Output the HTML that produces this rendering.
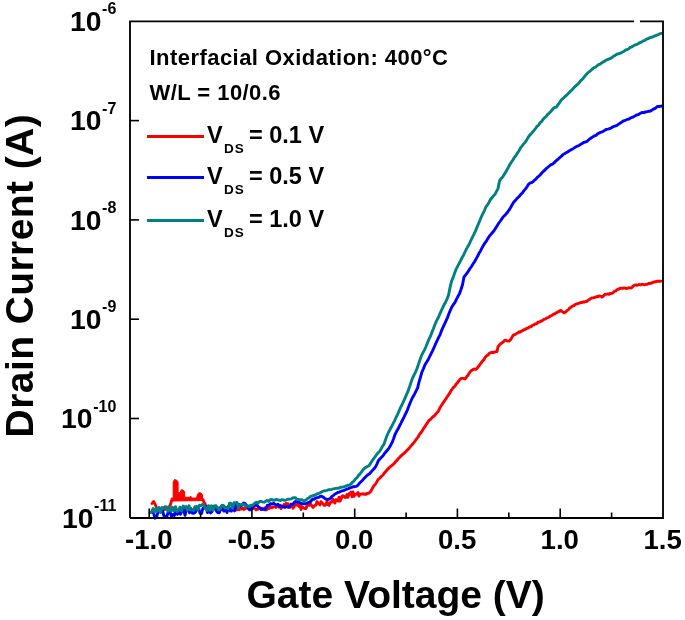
<!DOCTYPE html>
<html><head><meta charset="utf-8"><style>
html,body{margin:0;padding:0;background:#fff;}
svg{display:block;filter:blur(0.3px);}
text{font-family:"Liberation Sans",sans-serif;font-weight:bold;fill:#000;}
</style></head><body>
<svg width="685" height="620" viewBox="0 0 685 620">
<rect width="685" height="620" fill="#fff"/>
<g fill="none" stroke-linejoin="round" stroke-linecap="round" stroke-width="2.9">
<path d="M171.5,498.0 L173.2,498.0 L173.2,482.0 L174.5,479.6 L176.5,480.0 L178.1,482.0 L178.1,492.7 L180.1,492.7 L180.8,490.5 L182.1,489.5 L183.5,490.5 L184.7,492.0 L184.7,497.3 L190.0,497.3 L190.5,496.0 L191.3,497.0 L191.3,498.0 L196.5,498.0 L197.5,494.0 L199.0,492.7 L201.0,493.0 L202.5,495.0 L202.5,500.6 L171.5,501.0Z" stroke="#fa0000" fill="#fa0000" stroke-width="1"/>
<path d="M152.0,503.5 L153.5,501.5 L155.0,504.0 L157.0,509.0 L162.0,510.0 L166.0,509.0 L170.0,506.0 L171.5,501.0 M203.0,499.8 L204.0,502.4 L205.0,503.7 L206.0,506.2 L207.0,507.5 L208.0,507.4 L209.0,506.5 L210.0,506.6 L211.0,507.2 L212.0,507.2 L213.0,508.8 L214.0,508.1 L215.0,508.6 L216.0,509.6 L217.0,508.0 L218.0,508.8 L219.0,508.0 L220.0,509.6 L221.0,507.8 L222.0,509.7 L223.0,509.7 L224.0,509.6 L225.0,507.7 L226.0,508.1 L227.0,509.2 L228.0,507.6 L229.0,508.5 L230.0,508.4 L231.0,509.6 L232.0,508.8 L233.0,509.5 L234.0,508.2 L235.0,509.4 L236.0,508.6 L237.0,509.9 L238.0,507.9 L239.0,509.7 L240.0,508.3 L241.0,509.1 L242.0,509.0 L243.0,508.0 L244.0,509.6 L245.0,508.3 L246.0,508.2 L247.0,507.6 L248.0,508.1 L249.0,508.5 L250.0,509.0 L251.0,508.2 L252.0,509.0 L253.0,507.7 L254.0,508.4 L255.0,508.6 L256.0,509.8 L257.0,509.5 L258.0,509.1 L259.0,507.6 L260.0,508.5 L261.0,509.4 L262.0,508.3 L263.0,509.1 L264.0,508.9 L265.0,507.7 L266.0,509.9 L267.0,509.3 L268.0,507.7 L269.0,508.5 L270.0,507.5 L271.0,507.5 L272.0,507.8 L273.0,507.0 L274.0,506.9 L275.0,506.9 L276.0,507.4 L277.0,506.2 L278.0,505.9 L279.0,507.0 L280.0,505.3 L281.0,508.6 L282.0,506.3 L283.0,507.0 L284.0,504.6 L285.0,507.4 L286.0,503.4 L287.0,503.7 L288.0,503.6 L289.0,506.9 L290.0,507.2 L291.0,504.3 L292.0,505.7 L293.0,508.2 L294.0,506.9 L295.0,504.2 L296.0,505.1 L297.0,504.8 L298.0,504.7 L299.0,506.4 L300.0,504.6 L301.0,509.5 L302.0,506.8 L303.0,507.4 L304.0,508.2 L305.0,508.5 L306.0,508.5 L307.0,505.8 L308.0,505.2 L309.0,505.4 L310.0,502.8 L311.0,504.7 L312.0,506.1 L313.0,507.4 L314.0,506.3 L315.0,505.4 L316.0,505.1 L317.0,501.6 L318.0,503.3 L319.0,503.3 L320.0,504.9 L321.0,501.7 L322.0,503.1 L323.0,503.8 L324.0,505.2 L325.0,505.3 L326.0,504.0 L327.0,501.4 L328.0,504.7 L329.0,505.4 L330.0,503.3 L331.0,501.6 L332.0,501.9 L333.0,499.3 L334.0,501.9 L335.0,502.9 L336.0,499.7 L337.0,500.5 L338.0,501.0 L339.0,497.2 L340.0,501.2 L341.0,499.2 L342.0,496.5 L343.0,495.7 L344.0,496.4 L345.0,497.5 L346.0,497.4 L347.0,494.5 L348.0,497.3 L349.0,493.8 L350.0,494.0 L351.0,492.0 L352.0,496.7 L353.0,492.0 L354.0,496.3 L355.0,494.2 L356.0,494.2 L357.0,494.2 L358.0,492.5 L359.0,496.0 L360.0,494.1 L361.0,494.1 L362.0,494.0 L363.0,493.7 L364.0,494.3 L365.0,494.0 L366.0,494.3 L367.0,493.4 L368.0,493.3 L369.0,493.1 L370.0,492.2 L371.0,491.1 L372.0,489.0 L373.0,487.2 L374.0,485.6 L375.0,484.7 L376.0,483.2 L377.0,481.5 L378.0,479.7 L379.0,478.9 L380.0,478.0 L381.0,476.7 L382.0,475.9 L383.0,475.0 L384.0,473.4 L385.0,472.3 L386.0,471.3 L387.0,469.9 L388.0,468.9 L389.0,467.9 L390.0,466.8 L391.0,466.3 L392.0,465.3 L393.0,464.7 L394.0,463.6 L395.0,462.7 L396.0,461.0 L397.0,460.4 L398.0,458.8 L399.0,458.2 L400.0,456.9 L401.0,455.9 L402.0,454.9 L403.0,454.2 L404.0,453.3 L405.0,452.4 L406.0,451.5 L407.0,450.2 L408.0,449.5 L409.0,448.3 L410.0,447.2 L411.0,445.8 L412.0,444.7 L413.0,443.5 L414.0,442.5 L415.0,440.9 L416.0,439.7 L417.0,438.2 L418.0,437.2 L419.0,435.3 L420.0,433.6 L421.0,432.6 L422.0,431.2 L423.0,429.5 L424.0,427.8 L425.0,426.5 L426.0,424.7 L427.0,423.6 L428.0,421.8 L429.0,420.4 L430.0,419.7 L431.0,418.8 L432.0,417.8 L433.0,416.6 L434.0,416.2 L435.0,415.0 L436.0,413.7 L437.0,412.7 L438.0,411.7 L439.0,410.1 L440.0,407.5 L441.0,406.0 L442.0,404.6 L443.0,402.9 L444.0,401.7 L445.0,399.9 L446.0,398.8 L447.0,396.9 L448.0,395.8 L449.0,394.0 L450.0,392.8 L451.0,390.5 L452.0,389.5 L453.0,387.8 L454.0,387.0 L455.0,386.1 L456.0,384.2 L457.0,383.2 L458.0,382.0 L459.0,380.7 L460.0,379.2 L461.0,378.6 L462.0,378.4 L463.0,378.4 L464.0,378.6 L465.0,379.0 L466.0,377.6 L467.0,376.1 L468.0,375.4 L469.0,373.4 L470.0,372.1 L471.0,371.0 L472.0,370.2 L473.0,369.6 L474.0,369.1 L475.0,369.0 L476.0,369.3 L477.0,368.6 L478.0,366.8 L479.0,366.0 L480.0,364.3 L481.0,363.1 L482.0,361.6 L483.0,360.7 L484.0,359.5 L485.0,357.5 L486.0,356.5 L487.0,355.4 L488.0,355.1 L489.0,353.7 L490.0,352.9 L491.0,352.7 L492.0,352.2 L493.0,352.5 L494.0,352.3 L495.0,352.0 L496.0,351.4 L497.0,351.7 L498.0,346.7 L499.0,345.4 L500.0,344.3 L501.0,343.5 L502.0,342.8 L503.0,342.2 L504.0,341.0 L505.0,340.1 L506.0,340.2 L507.0,340.8 L508.0,341.1 L509.0,341.0 L510.0,340.3 L511.0,339.0 L512.0,337.3 L513.0,335.5 L514.0,334.6 L515.0,334.6 L516.0,333.9 L517.0,333.1 L518.0,332.9 L519.0,331.9 L520.0,332.2 L521.0,331.3 L522.0,330.9 L523.0,330.4 L524.0,329.6 L525.0,329.5 L526.0,328.8 L527.0,328.3 L528.0,328.3 L529.0,327.2 L530.0,326.8 L531.0,326.7 L532.0,325.7 L533.0,325.1 L534.0,324.8 L535.0,323.9 L536.0,323.9 L537.0,323.5 L538.0,322.2 L539.0,322.0 L540.0,321.8 L541.0,321.0 L542.0,320.9 L543.0,320.0 L544.0,319.3 L545.0,319.1 L546.0,318.7 L547.0,317.9 L548.0,317.6 L549.0,317.1 L550.0,316.3 L551.0,315.7 L552.0,315.4 L553.0,314.6 L554.0,314.0 L555.0,313.8 L556.0,312.7 L557.0,312.7 L558.0,311.7 L559.0,311.5 L560.0,310.7 L561.0,310.5 L562.0,311.5 L563.0,312.1 L564.0,312.8 L565.0,312.4 L566.0,311.7 L567.0,310.6 L568.0,309.9 L569.0,309.0 L570.0,307.7 L571.0,307.2 L572.0,306.4 L573.0,305.8 L574.0,305.6 L575.0,304.6 L576.0,304.2 L577.0,303.7 L578.0,303.6 L579.0,303.2 L580.0,302.8 L581.0,302.5 L582.0,302.6 L583.0,301.8 L584.0,302.2 L585.0,301.7 L586.0,301.5 L587.0,301.4 L588.0,300.4 L589.0,299.7 L590.0,299.2 L591.0,298.3 L592.0,297.9 L593.0,297.9 L594.0,297.6 L595.0,297.1 L596.0,297.1 L597.0,296.5 L598.0,296.8 L599.0,296.0 L600.0,296.2 L601.0,296.4 L602.0,297.2 L603.0,296.4 L604.0,295.3 L605.0,294.3 L606.0,294.4 L607.0,294.2 L608.0,293.9 L609.0,294.3 L610.0,293.4 L611.0,293.5 L612.0,293.3 L613.0,292.9 L614.0,291.6 L615.0,291.2 L616.0,290.8 L617.0,289.7 L618.0,289.2 L619.0,289.1 L620.0,288.2 L621.0,288.3 L622.0,288.2 L623.0,288.3 L624.0,287.9 L625.0,287.9 L626.0,288.6 L627.0,288.3 L628.0,288.3 L629.0,287.8 L630.0,287.8 L631.0,288.0 L632.0,287.4 L633.0,286.2 L634.0,285.5 L635.0,285.0 L636.0,284.9 L637.0,285.4 L638.0,285.0 L639.0,284.5 L640.0,284.7 L641.0,284.8 L642.0,284.2 L643.0,284.4 L644.0,284.6 L645.0,284.7 L646.0,284.4 L647.0,284.4 L648.0,283.8 L649.0,283.4 L650.0,283.5 L651.0,282.9 L652.0,283.0 L653.0,282.2 L654.0,282.1 L655.0,281.7 L656.0,281.7 L657.0,281.3 L658.0,281.2 L659.0,281.2 L660.0,281.3 L661.0,281.1" stroke="#fa0000"/>
<path d="M152.0,512.3 L153.5,512.8 L155.0,518.2 L156.5,517.3 L158.0,512.2 L159.5,510.5 L161.0,510.4 L162.5,510.6 L164.0,516.0 L165.5,516.9 L167.0,516.0 L168.5,511.2 L170.0,511.3 L171.5,516.5 L173.0,514.6 L174.5,515.4 L176.0,509.4 L177.5,514.4 L179.0,509.3 L180.5,514.3 L182.0,510.4 L183.5,508.5 L185.0,515.4 L186.5,508.7 L188.0,507.6 L189.5,512.8 L191.0,508.6 L192.5,513.2 L194.0,513.1 L195.5,512.0 L197.0,506.9 L198.5,507.7 L200.0,513.2 L201.5,513.6 L203.0,508.2 L204.5,507.6 L206.0,506.5 L207.5,512.6 L209.0,507.0 L210.5,513.0 L212.0,511.7 L213.5,506.3 L215.0,506.1 L216.5,511.2 L218.0,512.8 L219.5,512.5 L221.0,506.7 L222.5,507.3 L224.0,511.1 L225.5,507.3 L227.0,512.5 L228.5,506.6 L230.0,510.8 L231.5,511.1 L233.0,505.7 L234.5,510.9 L236.0,504.5 L237.5,505.8 L239.0,504.2 L240.5,506.3 L242.0,505.1 L243.5,503.0 L245.0,503.3 L246.5,505.8 L248.0,507.4 L249.5,509.9 L251.0,509.8 L252.5,507.6 L254.0,505.9 L255.5,505.2 L257.0,505.1 L258.5,507.2 L260.0,507.8 L261.5,509.4 L263.0,509.2 L264.5,509.7 L266.0,508.3 L267.5,505.2 L269.0,505.4 L270.5,503.6 L272.0,504.0 L273.5,503.2 L275.0,504.3 L276.5,505.0 L278.0,504.3 L279.5,506.5 L281.0,505.9 L282.5,506.5 L284.0,506.9 L285.5,506.6 L287.0,506.7 L288.5,507.4 L290.0,506.0 L291.5,504.3 L293.0,504.1 L294.5,502.1 L296.0,501.4 L297.5,502.2 L299.0,502.1 L300.5,503.1 L302.0,503.9 L303.5,503.7 L305.0,503.8 L306.5,503.5 L308.0,502.7 L309.5,502.2 L311.0,501.0 L312.5,499.2 L314.0,499.2 L315.5,498.2 L317.0,497.6 L318.5,497.4 L320.0,496.5 L321.5,496.2 L323.0,497.0 L324.5,498.1 L326.0,499.1 L327.5,499.6 L329.0,499.1 L330.5,498.2 L332.0,496.4 L333.5,495.3 L335.0,494.0 L336.5,493.2 L338.0,492.4 L339.5,492.1 L341.0,491.2 L342.5,490.8 L344.0,490.4 L345.5,489.7 L347.0,489.0 L348.5,488.6 L350.0,487.8 L351.5,487.4 L353.0,486.8 L354.5,486.7 L356.0,486.3 L357.5,485.7 L359.0,483.8 L360.5,482.1 L362.0,480.9 L363.5,479.1 L365.0,477.5 L366.5,476.0 L368.0,474.7 L369.5,473.7 L371.0,472.1 L372.5,470.4 L374.0,468.7 L375.5,467.0 L377.0,463.8 L378.5,460.4 L380.0,458.7 L381.5,457.2 L383.0,455.7 L384.5,453.5 L386.0,451.7 L387.5,450.0 L389.0,448.1 L390.5,445.6 L392.0,442.7 L393.5,439.0 L395.0,434.5 L396.5,431.6 L398.0,429.1 L399.5,426.0 L401.0,423.1 L402.5,420.0 L404.0,417.1 L405.5,413.9 L407.0,411.0 L408.5,407.1 L410.0,403.2 L411.5,399.7 L413.0,396.7 L414.5,394.2 L416.0,391.1 L417.5,388.3 L419.0,382.1 L420.5,377.0 L422.0,371.8 L423.5,368.5 L425.0,364.7 L426.5,362.3 L428.0,360.0 L429.5,356.8 L431.0,353.9 L432.5,350.9 L434.0,347.7 L435.5,344.0 L437.0,340.8 L438.5,337.6 L440.0,334.9 L441.5,330.7 L443.0,327.3 L444.5,324.2 L446.0,320.8 L447.5,317.6 L449.0,313.5 L450.5,309.9 L452.0,306.7 L453.5,304.4 L455.0,302.3 L456.5,299.2 L458.0,296.3 L459.5,293.6 L461.0,289.5 L462.5,284.7 L464.0,277.0 L465.5,275.1 L467.0,273.2 L468.5,270.9 L470.0,268.5 L471.5,266.5 L473.0,264.1 L474.5,261.8 L476.0,259.1 L477.5,256.4 L479.0,253.3 L480.5,250.9 L482.0,247.9 L483.5,245.2 L485.0,242.9 L486.5,240.8 L488.0,238.3 L489.5,235.9 L491.0,234.3 L492.5,232.5 L494.0,230.7 L495.5,228.4 L497.0,226.0 L498.5,223.5 L500.0,221.5 L501.5,219.4 L503.0,217.0 L504.5,215.7 L506.0,214.0 L507.5,212.2 L509.0,210.1 L510.5,207.8 L512.0,205.0 L513.5,202.5 L515.0,200.8 L516.5,199.1 L518.0,197.5 L519.5,196.1 L521.0,194.2 L522.5,192.7 L524.0,190.6 L525.5,188.9 L527.0,186.9 L528.5,184.3 L530.0,183.0 L531.5,182.6 L533.0,181.8 L534.5,180.1 L536.0,179.0 L537.5,177.2 L539.0,176.1 L540.5,174.5 L542.0,172.7 L543.5,171.2 L545.0,170.0 L546.5,168.3 L548.0,167.2 L549.5,165.8 L551.0,164.7 L552.5,164.1 L554.0,162.9 L555.5,161.4 L557.0,160.0 L558.5,158.8 L560.0,157.4 L561.5,156.2 L563.0,154.5 L564.5,153.8 L566.0,152.7 L567.5,152.0 L569.0,151.0 L570.5,150.1 L572.0,149.3 L573.5,148.4 L575.0,147.4 L576.5,146.5 L578.0,145.9 L579.5,145.2 L581.0,144.1 L582.5,143.3 L584.0,142.3 L585.5,142.0 L587.0,141.4 L588.5,140.0 L590.0,138.7 L591.5,137.7 L593.0,136.8 L594.5,135.8 L596.0,135.4 L597.5,133.8 L599.0,133.2 L600.5,132.3 L602.0,131.9 L603.5,131.2 L605.0,130.1 L606.5,129.4 L608.0,129.1 L609.5,128.6 L611.0,128.2 L612.5,127.0 L614.0,126.4 L615.5,125.9 L617.0,125.3 L618.5,124.2 L620.0,123.3 L621.5,122.2 L623.0,121.2 L624.5,120.6 L626.0,120.0 L627.5,119.3 L629.0,119.0 L630.5,118.0 L632.0,117.4 L633.5,116.9 L635.0,115.9 L636.5,115.0 L638.0,114.7 L639.5,113.9 L641.0,112.8 L642.5,112.4 L644.0,112.5 L645.5,112.0 L647.0,111.7 L648.5,111.3 L650.0,111.2 L651.5,110.4 L653.0,109.3 L654.5,108.7 L656.0,107.7 L657.5,106.5 L659.0,106.5 L660.5,106.3 L662.0,106.0" stroke="#0000ff"/>
<path d="M150.0,512.7 L151.5,511.9 L153.0,508.5 L154.5,512.1 L156.0,508.6 L157.5,511.0 L159.0,507.5 L160.5,512.6 L162.0,507.4 L163.5,508.4 L165.0,506.7 L166.5,506.9 L168.0,511.3 L169.5,507.3 L171.0,511.3 L172.5,507.3 L174.0,511.0 L175.5,506.7 L177.0,511.6 L178.5,510.1 L180.0,507.2 L181.5,510.7 L183.0,506.1 L184.5,507.2 L186.0,506.6 L187.5,510.3 L189.0,505.8 L190.5,509.9 L192.0,509.8 L193.5,510.5 L195.0,506.6 L196.5,506.7 L198.0,510.2 L199.5,505.2 L201.0,505.6 L202.5,504.5 L204.0,505.6 L205.5,508.6 L207.0,510.3 L208.5,505.7 L210.0,510.2 L211.5,505.8 L213.0,510.2 L214.5,506.1 L216.0,505.7 L217.5,508.1 L219.0,509.7 L220.5,508.1 L222.0,505.3 L223.5,505.5 L225.0,508.1 L226.5,507.4 L228.0,508.7 L229.5,503.1 L231.0,503.4 L232.5,508.3 L234.0,502.8 L235.5,502.6 L237.0,502.5 L238.5,507.5 L240.0,504.7 L241.5,504.7 L243.0,504.3 L244.5,504.5 L246.0,506.7 L247.5,505.6 L249.0,506.8 L250.5,505.2 L252.0,505.6 L253.5,504.4 L255.0,503.1 L256.5,502.3 L258.0,503.1 L259.5,501.5 L261.0,501.5 L262.5,501.9 L264.0,502.2 L265.5,501.4 L267.0,500.4 L268.5,501.4 L270.0,499.9 L271.5,499.5 L273.0,500.0 L274.5,500.3 L276.0,499.5 L277.5,499.7 L279.0,500.1 L280.5,500.5 L282.0,499.6 L283.5,500.0 L285.0,500.3 L286.5,499.8 L288.0,499.1 L289.5,499.2 L291.0,498.9 L292.5,498.0 L294.0,497.8 L295.5,497.7 L297.0,499.5 L298.5,499.5 L300.0,499.9 L301.5,499.6 L303.0,500.5 L304.5,500.8 L306.0,499.9 L307.5,498.5 L309.0,497.9 L310.5,496.3 L312.0,496.0 L313.5,495.5 L315.0,495.0 L316.5,494.2 L318.0,493.6 L319.5,493.0 L321.0,492.4 L322.5,491.3 L324.0,490.9 L325.5,490.7 L327.0,490.4 L328.5,489.7 L330.0,489.6 L331.5,489.3 L333.0,488.9 L334.5,488.7 L336.0,488.4 L337.5,488.3 L339.0,488.1 L340.5,487.3 L342.0,487.2 L343.5,486.9 L345.0,486.4 L346.5,485.8 L348.0,485.2 L349.5,485.0 L351.0,483.9 L352.5,482.3 L354.0,481.0 L355.5,478.9 L357.0,477.7 L358.5,475.4 L360.0,473.9 L361.5,471.9 L363.0,469.8 L364.5,468.2 L366.0,467.2 L367.5,466.4 L369.0,465.7 L370.5,463.4 L372.0,461.0 L373.5,458.9 L375.0,456.9 L376.5,454.7 L378.0,452.8 L379.5,451.5 L381.0,449.0 L382.5,446.3 L384.0,444.1 L385.5,439.7 L387.0,435.6 L388.5,432.3 L390.0,429.5 L391.5,426.8 L393.0,423.9 L394.5,420.9 L396.0,417.5 L397.5,414.6 L399.0,411.2 L400.5,407.7 L402.0,404.6 L403.5,401.5 L405.0,398.1 L406.5,394.6 L408.0,391.2 L409.5,387.0 L411.0,382.4 L412.5,378.2 L414.0,375.1 L415.5,372.1 L417.0,368.5 L418.5,364.1 L420.0,359.8 L421.5,355.7 L423.0,352.7 L424.5,349.8 L426.0,346.5 L427.5,342.7 L429.0,339.1 L430.5,336.2 L432.0,332.1 L433.5,328.5 L435.0,324.3 L436.5,320.9 L438.0,318.3 L439.5,314.7 L441.0,311.4 L442.5,308.2 L444.0,304.8 L445.5,302.4 L447.0,299.0 L448.5,295.2 L450.0,287.6 L451.5,281.3 L453.0,277.9 L454.5,273.5 L456.0,269.4 L457.5,266.6 L459.0,263.7 L460.5,260.8 L462.0,257.7 L463.5,255.2 L465.0,252.0 L466.5,248.9 L468.0,246.3 L469.5,243.4 L471.0,240.1 L472.5,237.1 L474.0,234.2 L475.5,230.9 L477.0,227.2 L478.5,223.7 L480.0,220.2 L481.5,216.5 L483.0,213.3 L484.5,210.3 L486.0,206.7 L487.5,204.9 L489.0,202.3 L490.5,199.5 L492.0,197.7 L493.5,195.9 L495.0,194.2 L496.5,191.4 L498.0,188.6 L499.5,181.1 L501.0,178.6 L502.5,177.2 L504.0,174.7 L505.5,172.6 L507.0,169.8 L508.5,167.1 L510.0,164.3 L511.5,161.9 L513.0,159.8 L514.5,157.2 L516.0,155.5 L517.5,153.1 L519.0,150.7 L520.5,147.9 L522.0,146.1 L523.5,144.0 L525.0,142.4 L526.5,140.2 L528.0,137.6 L529.5,135.4 L531.0,133.9 L532.5,132.1 L534.0,130.5 L535.5,128.5 L537.0,126.4 L538.5,125.2 L540.0,122.9 L541.5,121.6 L543.0,119.4 L544.5,117.8 L546.0,116.6 L547.5,114.6 L549.0,113.2 L550.5,111.7 L552.0,110.0 L553.5,108.2 L555.0,107.4 L556.5,107.1 L558.0,104.7 L559.5,102.8 L561.0,100.2 L562.5,98.8 L564.0,97.6 L565.5,96.0 L567.0,94.8 L568.5,93.3 L570.0,91.7 L571.5,90.4 L573.0,88.7 L574.5,87.1 L576.0,85.6 L577.5,84.4 L579.0,83.0 L580.5,80.9 L582.0,79.6 L583.5,78.0 L585.0,75.9 L586.5,74.3 L588.0,72.7 L589.5,71.6 L591.0,70.2 L592.5,69.0 L594.0,67.6 L595.5,67.2 L597.0,65.8 L598.5,64.7 L600.0,64.1 L601.5,63.0 L603.0,62.1 L604.5,61.3 L606.0,60.1 L607.5,59.7 L609.0,58.8 L610.5,58.5 L612.0,57.6 L613.5,56.2 L615.0,55.5 L616.5,54.4 L618.0,53.8 L619.5,53.5 L621.0,52.9 L622.5,52.0 L624.0,51.2 L625.5,50.2 L627.0,49.6 L628.5,49.0 L630.0,47.5 L631.5,47.2 L633.0,46.0 L634.5,45.3 L636.0,44.6 L637.5,44.2 L639.0,43.1 L640.5,42.4 L642.0,41.8 L643.5,40.7 L645.0,40.4 L646.5,39.2 L648.0,38.7 L649.5,37.9 L651.0,37.3 L652.5,37.0 L654.0,36.3 L655.5,35.7 L657.0,35.1 L658.5,34.6 L660.0,33.7 L661.5,33.4" stroke="#008080"/>
</g>
<g stroke="#000" stroke-width="1.85" fill="none">
<path d="M130,518 L130,21.4 L634,21.4 M640,21.4 L663,21.4 L663,518 L130,518"/>
</g>
<g stroke="#000" stroke-width="1.6">
<line x1="149.2" y1="518" x2="149.2" y2="508.5"/><line x1="251.9" y1="518" x2="251.9" y2="508.5"/><line x1="354.7" y1="518" x2="354.7" y2="508.5"/><line x1="457.4" y1="518" x2="457.4" y2="508.5"/><line x1="560.2" y1="518" x2="560.2" y2="508.5"/><line x1="200.6" y1="518" x2="200.6" y2="512.5"/><line x1="303.3" y1="518" x2="303.3" y2="512.5"/><line x1="406.1" y1="518" x2="406.1" y2="512.5"/><line x1="508.8" y1="518" x2="508.8" y2="512.5"/><line x1="611.6" y1="518" x2="611.6" y2="512.5"/><line x1="130" y1="120.6" x2="139" y2="120.6"/><line x1="130" y1="219.9" x2="139" y2="219.9"/><line x1="130" y1="319.2" x2="139" y2="319.2"/><line x1="130" y1="418.5" x2="139" y2="418.5"/>
</g>
<g font-size="27.6">
<text x="148.8" y="548.7" text-anchor="middle">-1.0</text><text x="251.5" y="548.7" text-anchor="middle">-0.5</text><text x="354.3" y="548.7" text-anchor="middle">0.0</text><text x="457.1" y="548.7" text-anchor="middle">0.5</text><text x="559.8" y="548.7" text-anchor="middle">1.0</text><text x="662.6" y="548.7" text-anchor="middle">1.5</text>
</g>
<g font-size="27.6">
<text x="116.3" y="31.1" text-anchor="end" font-size="28.3">10<tspan dx="0.6" dy="-16.8" font-size="16">-6</tspan></text><text x="116.3" y="130.4" text-anchor="end" font-size="28.3">10<tspan dx="0.6" dy="-16.8" font-size="16">-7</tspan></text><text x="116.3" y="229.7" text-anchor="end" font-size="28.3">10<tspan dx="0.6" dy="-16.8" font-size="16">-8</tspan></text><text x="116.3" y="329.0" text-anchor="end" font-size="28.3">10<tspan dx="0.6" dy="-16.8" font-size="16">-9</tspan></text><text x="116.3" y="428.3" text-anchor="end" font-size="28.3">10<tspan dx="0.6" dy="-16.8" font-size="16">-10</tspan></text><text x="116.3" y="527.6" text-anchor="end" font-size="28.3">10<tspan dx="0.6" dy="-16.8" font-size="16">-11</tspan></text>
</g>
<text x="246.5" y="607.8" font-size="39">Gate Voltage (V)</text>
<text transform="translate(33,437.4) rotate(-90)" x="0" y="0" font-size="39" letter-spacing="0.42">Drain Current (A)</text>
<g font-size="22" letter-spacing="0.45">
<text x="149.5" y="65">Interfacial Oxidation: 400°C</text>
<text x="149.5" y="99.5">W/L = 10/0.6</text>
</g>
<g stroke-width="3" stroke-linecap="butt">
<line x1="147" y1="136.4" x2="204" y2="136.4" stroke="#fa0000"/>
<line x1="147" y1="177.4" x2="204" y2="177.4" stroke="#0000ff"/>
<line x1="147" y1="220.6" x2="204" y2="220.6" stroke="#008080"/>
</g>
<g font-size="23.5">
<text x="207" y="142.7">V<tspan x="224" dy="9.8" font-size="13.5" letter-spacing="1">DS</tspan><tspan dy="-9.8" x="249">= 0.1 V</tspan></text>
<text x="207" y="184.2">V<tspan x="224" dy="9.8" font-size="13.5" letter-spacing="1">DS</tspan><tspan dy="-9.8" x="249">= 0.5 V</tspan></text>
<text x="207" y="227.4">V<tspan x="224" dy="9.8" font-size="13.5" letter-spacing="1">DS</tspan><tspan dy="-9.8" x="249">= 1.0 V</tspan></text>
</g>
</svg>
</body></html>
